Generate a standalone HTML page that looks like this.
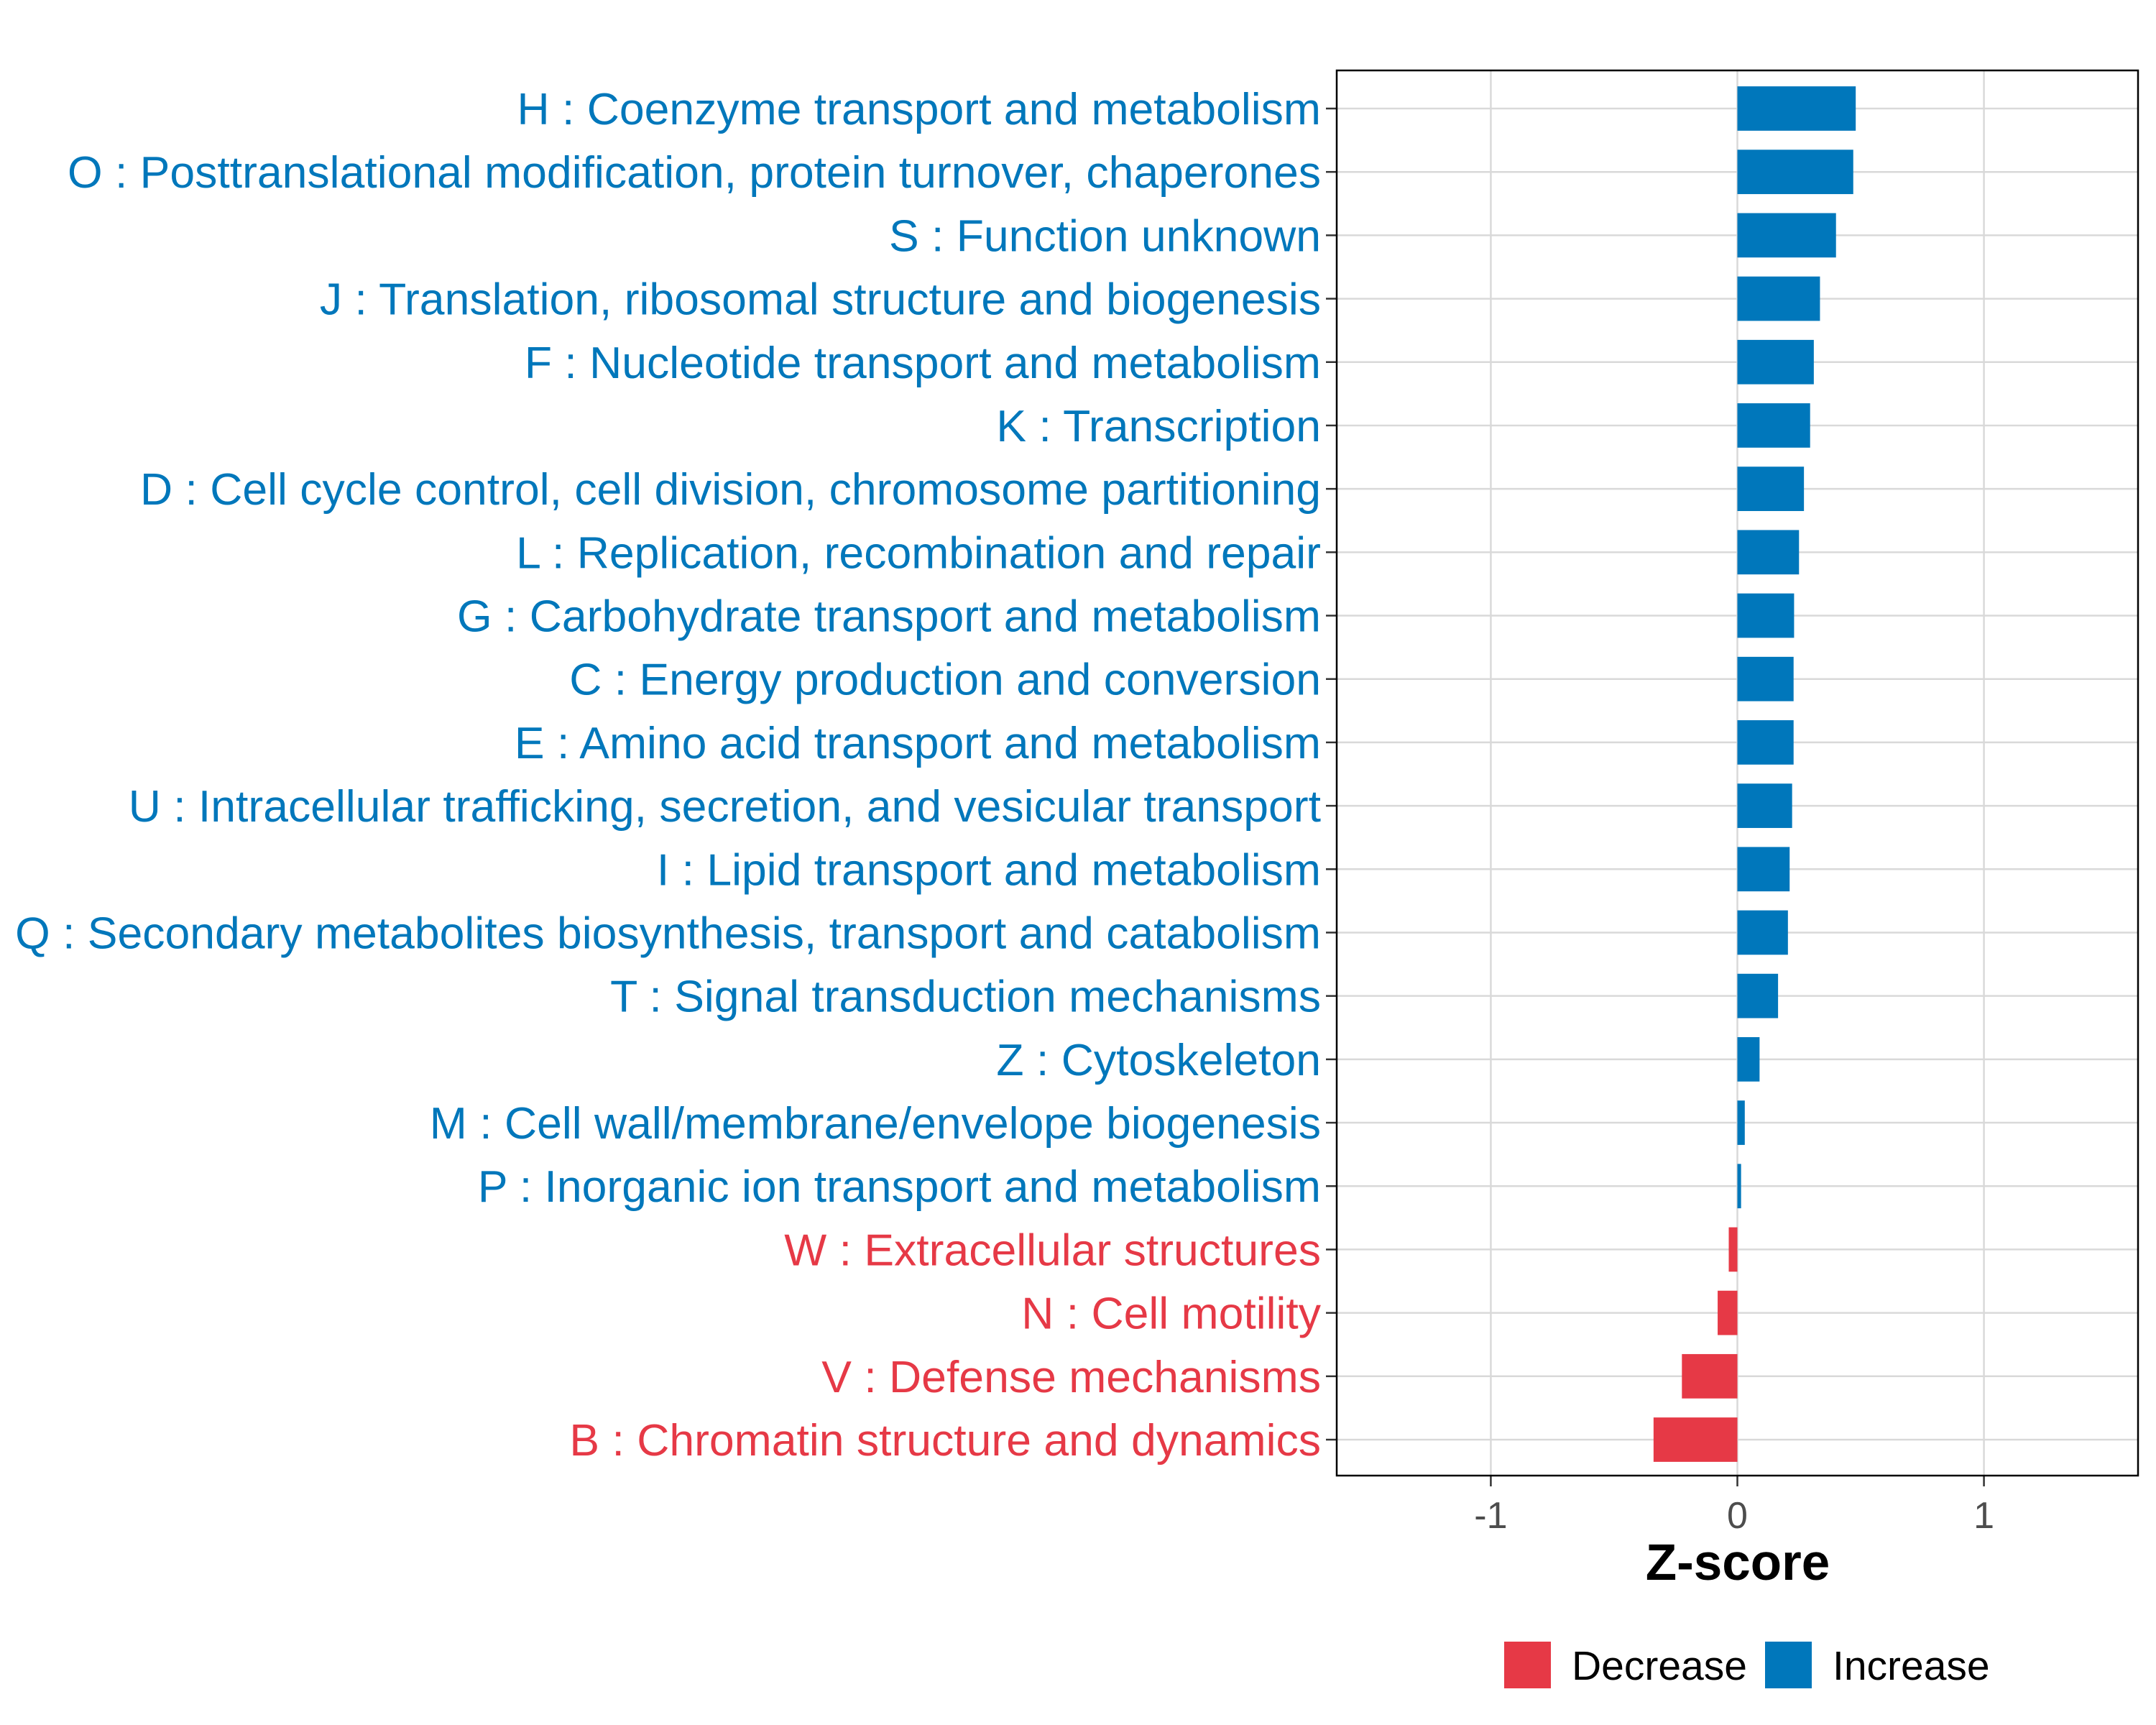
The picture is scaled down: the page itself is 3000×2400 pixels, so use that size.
<!DOCTYPE html>
<html><head><meta charset="utf-8"><style>
html,body{margin:0;padding:0;background:#fff;}
svg{display:block;font-family:"Liberation Sans",sans-serif;}
</style></head><body>
<svg id="chart" width="3000" height="2400" viewBox="0 0 3000 2400" xmlns="http://www.w3.org/2000/svg">
<rect width="3000" height="2400" fill="#fff"/>
<g id="grid"></g>
<g id="bars"></g>
<g id="labels"></g>
<g id="xaxis"></g>
<rect x="1860" y="98" width="1115" height="1955" fill="none" stroke="#000" stroke-width="2.5"/>
<text x="2418" y="2198" text-anchor="middle" font-size="71" font-weight="bold">Z-score</text>
<g>
<rect x="2093" y="2284" width="65" height="65" fill="#E63946"/>
<text x="2187" y="2337" font-size="57">Decrease</text>
<rect x="2456" y="2284" width="65" height="65" fill="#0077BB"/>
<text x="2550" y="2337" font-size="57">Increase</text>
</g>
</svg>
<script>
const categories = ["H : Coenzyme transport and metabolism","O : Posttranslational modification, protein turnover, chaperones","S : Function unknown","J : Translation, ribosomal structure and biogenesis","F : Nucleotide transport and metabolism","K : Transcription","D : Cell cycle control, cell division, chromosome partitioning","L : Replication, recombination and repair","G : Carbohydrate transport and metabolism","C : Energy production and conversion","E : Amino acid transport and metabolism","U : Intracellular trafficking, secretion, and vesicular transport","I : Lipid transport and metabolism","Q : Secondary metabolites biosynthesis, transport and catabolism","T : Signal transduction mechanisms","Z : Cytoskeleton","M : Cell wall/membrane/envelope biogenesis","P : Inorganic ion transport and metabolism","W : Extracellular structures","N : Cell motility","V : Defense mechanisms","B : Chromatin structure and dynamics"];
const zscores = [0.48,0.47,0.40,0.335,0.31,0.295,0.27,0.25,0.23,0.228,0.228,0.222,0.212,0.205,0.165,0.09,0.03,0.015,-0.035,-0.08,-0.225,-0.34];
const xTicks = [-1,0,1];
const xTickLabels = ["-1","0","1"];
const NS="http://www.w3.org/2000/svg";
const X0=1860,X1=2975,XMIN=-1.625,XMAX=1.625;
const x=v=>X0+(v-XMIN)/(XMAX-XMIN)*(X1-X0);
const Y0=151,STEP=(2003-151)/21;
const y=i=>Y0+i*STEP;
const BH=STEP*0.7;
function mk(t,a,p){const e=document.createElementNS(NS,t);for(const k in a)e.setAttribute(k,a[k]);p.appendChild(e);return e;}
const grid=document.getElementById('grid'),bars=document.getElementById('bars'),labels=document.getElementById('labels'),xa=document.getElementById('xaxis');
xTicks.forEach((t,i)=>{
 const g=mk('line',{x1:x(t),x2:x(t),y1:98,y2:2053,stroke:'#D9D9D9','stroke-width':2.5},grid);
 
 
 const tk=mk('line',{x1:x(t),x2:x(t),y1:2053,y2:2068,stroke:'#333','stroke-width':2.5},xa);
 
 
 const lb=mk('text',{x:x(t),y:2126,'text-anchor':'middle','font-size':52,fill:'#4D4D4D'},xa);
 lb.textContent=xTickLabels[i];
 
 
});
categories.forEach((c,i)=>{
 const v=zscores[i];const col=v<0?'#E63946':'#0077BB';
 const gl=mk('line',{x1:X0,x2:X1,y1:y(i),y2:y(i),stroke:'#D9D9D9','stroke-width':2.5},grid);
 
 
 const b=mk('rect',{x:Math.min(x(0),x(v)),y:y(i)-BH/2,width:Math.abs(x(v)-x(0)),height:BH,fill:col},bars);
 
 
 const tk=mk('line',{x1:1845,x2:X0,y1:y(i),y2:y(i),stroke:'#333','stroke-width':2.5},labels);
 
 
 const t=mk('text',{x:1838,y:y(i)+22,'text-anchor':'end','font-size':62.5,fill:col},labels);
 t.textContent=c;
 
 
});
</script>
</body></html>
